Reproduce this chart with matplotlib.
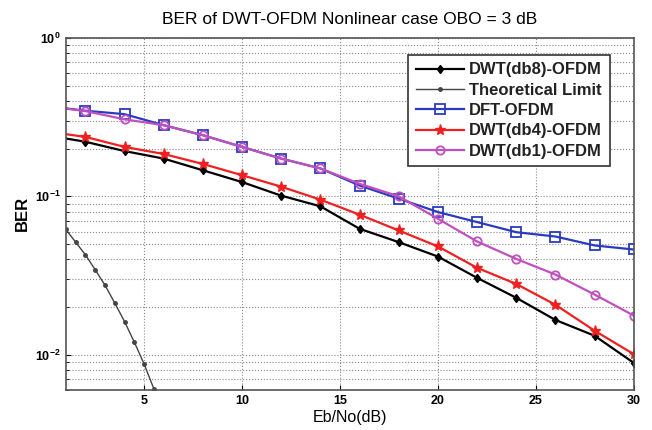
import matplotlib.pyplot as plt
import numpy as np

plt.rcParams['font.family'] = ['Liberation Sans', 'DejaVu Sans']

snr = [0, 2, 4, 6, 8, 10, 12, 14, 16, 18, 20, 22, 24, 26, 28, 30]

ber_db8 = [0.243, 0.221, 0.193, 0.173, 0.146, 0.123, 0.101, 0.0865, 0.0624, 0.0514,
           0.0417, 0.0306, 0.0229, 0.0166, 0.0132, 0.0089]
ber_dft = [0.371, 0.347, 0.330, 0.281, 0.243, 0.205, 0.173, 0.150, 0.117, 0.0967,
           0.0796, 0.0688, 0.0594, 0.0558, 0.049, 0.0462]
ber_db4 = [0.257, 0.237, 0.205, 0.185, 0.160, 0.136, 0.115, 0.0953, 0.0766, 0.0609,
           0.0483, 0.0354, 0.0280, 0.0207, 0.0142, 0.0101]
ber_db1 = [0.371, 0.345, 0.306, 0.281, 0.243, 0.205, 0.173, 0.150, 0.120, 0.100,
           0.0722, 0.0519, 0.0403, 0.0321, 0.024, 0.0177]

snr_th = [1, 1.5, 2, 2.5, 3, 3.5, 4, 4.5, 5, 5.5, 6]
ber_th = [0.0618, 0.0514, 0.0428, 0.0344, 0.0275, 0.0212, 0.0162, 0.0120, 0.00873, 0.00607, 0.0039]

fig = plt.figure(figsize=(6.52, 4.30), dpi=100)
ax = fig.add_axes([0.101, 0.093, 0.871, 0.819])
ax.set_yscale('log')

ax.plot(snr, ber_db8, color='black', marker='d', lw=1.6, ms=4.5, label='DWT(db8)-OFDM')
ax.plot(snr_th, ber_th, color='#444444', marker='.', lw=1.0, ms=5, label='Theoretical Limit')
ax.plot(snr, ber_dft, color='#2b3bbf', marker='s', lw=1.6, ms=7, mfc='none', mew=1.3, label='DFT-OFDM')
ax.plot(snr, ber_db4, color='#f02020', marker='*', lw=1.6, ms=8, label='DWT(db4)-OFDM')
ax.plot(snr, ber_db1, color='#c050c0', marker='o', lw=1.6, ms=6, mfc='none', mew=1.3, label='DWT(db1)-OFDM')

ax.set_xlim(1, 30)
ax.set_ylim(0.006, 1)
ax.set_xticks([5, 10, 15, 20, 25, 30])
ax.grid(True, which='major', ls=':', color='#888888', lw=0.8)
ax.grid(True, which='minor', axis='y', ls=':', color='#888888', lw=0.8)
ax.tick_params(which='both', direction='in', labelsize=9)
for lab in ax.get_xticklabels() + ax.get_yticklabels():
    lab.set_fontweight('bold')
for s in ax.spines.values():
    s.set_color('#555555')
    s.set_linewidth(1.2)

ax.set_title('BER of DWT-OFDM Nonlinear case OBO = 3 dB', fontsize=12.5, pad=10)
ax.set_xlabel('Eb/No(dB)', fontsize=11.5, labelpad=2)
ax.set_ylabel('BER', fontsize=12, fontweight='bold')

leg = ax.legend(loc='upper right', bbox_to_anchor=(0.972, 0.975), fontsize=12, fancybox=False,
                edgecolor='#333333', framealpha=1, handlelength=2.9, borderpad=0.45,
                labelspacing=0.32, handletextpad=0.3)
leg.get_frame().set_linewidth(1.2)
for t in leg.get_texts():
    t.set_fontweight('bold')
    t.set_color('#222222')

fig.savefig('out.png', dpi=100)
